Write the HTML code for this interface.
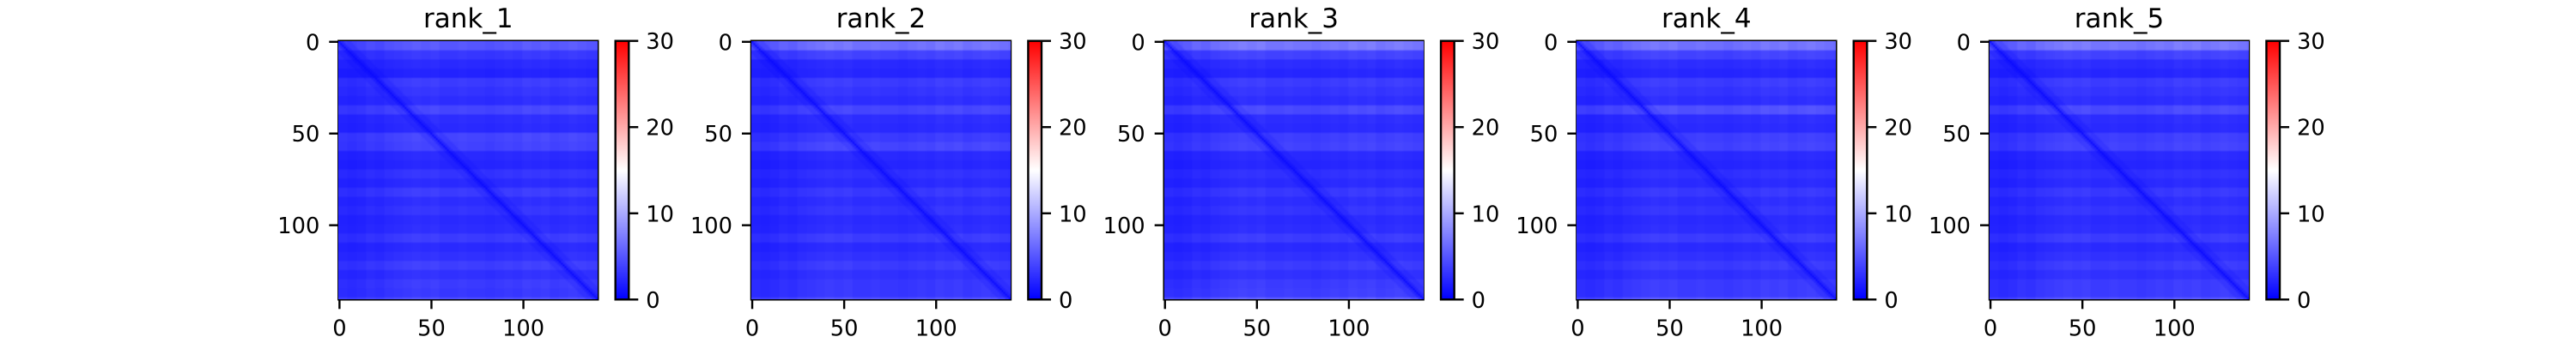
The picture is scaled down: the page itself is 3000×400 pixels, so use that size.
<!DOCTYPE html>
<html><head><meta charset="utf-8"><style>
html,body{margin:0;padding:0;background:#fff;width:3000px;height:400px;overflow:hidden}
svg{position:absolute;left:0;top:0}
canvas{position:absolute}
text{font-family:"DejaVu Sans","Liberation Sans",sans-serif;fill:#000}
</style></head><body>
<svg id="fig" width="3000" height="400"></svg>
<script>
// ---- data ----
const panelTitles = ["rank_1","rank_2","rank_3","rank_4","rank_5"];
const xTicks = [0,50,100];
const yTicks = [0,50,100];
const cbarTicks = [0,10,20,30];
const nCells = 141;
const vMin = 0, vMax = 30;
const diagValue = 0.6;
// brightness level per 5-row band (29 bands), one array per panel
const rowLevels1 = [5.0,3.2,2.4,2.0,3.4,3.0,2.6,4.0,2.6,2.4,4.0,3.8,2.4,2.2,3.0,2.4,3.4,2.6,3.0,2.4,2.6,3.4,2.4,2.8,3.6,2.8,3.4,3.2,4.6];
const rowLevels2 = [6.5,3.8,2.4,2.2,3.4,3.0,2.6,4.0,2.6,2.4,3.4,4.0,2.4,2.2,2.8,2.4,3.2,2.6,3.0,2.4,2.6,3.4,2.4,2.8,3.4,2.8,3.2,3.2,4.8];
const rowLevels3 = [6.8,3.8,2.6,2.2,3.4,3.0,2.6,4.2,2.6,2.4,3.6,3.8,2.4,2.2,2.8,2.4,3.2,2.6,3.0,2.4,2.6,3.4,2.4,2.8,3.4,2.8,3.4,3.6,5.6];
const rowLevels4 = [6.5,3.8,2.6,2.2,3.4,3.0,2.6,4.6,2.6,2.4,3.6,3.8,2.4,2.2,2.8,2.4,3.2,2.6,3.0,2.4,2.6,3.4,2.4,2.8,3.4,2.8,3.4,3.4,5.2];
const rowLevels5 = [6.8,3.8,2.6,2.2,3.4,3.0,2.6,4.2,2.6,2.4,3.6,3.8,2.4,2.2,2.8,2.4,3.2,2.6,3.0,2.4,2.6,3.4,2.4,2.8,3.4,2.8,3.4,3.4,5.0];
// column factor per 5-col band (29 bands)
const colFactors = [0.8,0.75,0.8,0.9,0.85,0.95,1.0,1.05,1.1,1.05,1.1,1.0,1.0,1.05,1.0,1.0,0.95,1.0,1.05,1.0,1.1,1.05,1.1,1.0,1.05,1.1,1.05,1.0,0.95];
const allRowLevels = [rowLevels1,rowLevels2,rowLevels3,rowLevels4,rowLevels5];

// ---- layout ----
const NS="http://www.w3.org/2000/svg";
const svg=document.getElementById('fig');
const ax0=394.3, step=480.68, axTop=47.7, axW=302, axH=301.6;
function mk(tag,attrs,parent){const e=document.createElementNS(NS,tag);for(const k in attrs)e.setAttribute(k,attrs[k]);(parent||svg).appendChild(e);return e;}
function bwr(v){let t=(v-vMin)/(vMax-vMin);t=Math.max(0,Math.min(1,t));
 if(t<0.5){const c=Math.round(255*t*2);return `rgb(${c},${c},255)`;}
 const c=Math.round(255*(1-t)*2);return `rgb(255,${c},${c})`;}

allRowLevels.forEach((rows,p)=>{
  const L=ax0+step*p;
  const xs=v=>L+(v+0.5)/nCells*axW;
  const ys=v=>axTop+(v+0.5)/nCells*axH;
  const g=mk('g',{});
  
  
  // heatmap canvas
  const cv=document.createElement('canvas');
  cv.width=nCells;cv.height=nCells;
  cv.style.left=L+'px';cv.style.top=axTop+'px';cv.style.width=axW+'px';cv.style.height=axH+'px';
  
  
  document.body.appendChild(cv);
  const ctx=cv.getContext('2d');
  for(let i=0;i<nCells;i++)for(let j=0;j<nCells;j++){
    let v=rows[Math.floor(i/5)]*colFactors[Math.floor(j/5)];
    if(i===j)v=diagValue;else if(Math.abs(i-j)<=2)v*=0.6;else if(Math.abs(i-j)<=6)v*=0.85;
    ctx.fillStyle=bwr(v);ctx.fillRect(j,i,1,1);
  }
  // frame
  const fr=mk('rect',{x:L,y:axTop,width:axW,height:axH,fill:'none',stroke:'#000','stroke-width':2.4},g);
  
  
  // title
  const t=mk('text',{x:L+axW/2,y:32,'text-anchor':'middle','font-size':31},g);
  t.textContent=panelTitles[p];
  
  
  xTicks.forEach(v=>{
    const x=xs(v)-axW/nCells*0.5+ (v===0?1:0);
    const xx=L+(v+0.5)/nCells*axW;
    mk('line',{x1:xx,x2:xx,y1:axTop+axH,y2:axTop+axH+11,stroke:'#000','stroke-width':2.4},g);
    const lb=mk('text',{x:xx,y:axTop+axH+42,'text-anchor':'middle','font-size':25.7},g);
    lb.textContent=v;
    
    
  });
  yTicks.forEach(v=>{
    const yy=ys(v);
    mk('line',{x1:L-11,x2:L,y1:yy,y2:yy,stroke:'#000','stroke-width':2.4},g);
    const lb=mk('text',{x:L-22,y:yy+9.5,'text-anchor':'end','font-size':25.7},g);
    lb.textContent=v;
    
    
  });
  // colorbar
  const cx=L+322.4, cw=15.6;
  const cb=mk('g',{},g);
  
  
  const defs=mk('defs',{},cb);
  const gr=mk('linearGradient',{id:'cbg'+p,x1:0,y1:1,x2:0,y2:0},defs);
  [0,0.25,0.5,0.75,1].forEach(s=>mk('stop',{offset:s,'stop-color':bwr(vMin+s*(vMax-vMin))},gr));
  mk('rect',{x:cx,y:axTop,width:cw,height:axH,fill:`url(#cbg${p})`,stroke:'#000','stroke-width':2.4},cb);
  const cy=v=>axTop+axH-(v-vMin)/(vMax-vMin)*axH;
  cbarTicks.forEach(v=>{
    mk('line',{x1:cx+cw,x2:cx+cw+11,y1:cy(v),y2:cy(v),stroke:'#000','stroke-width':2.4},cb);
    const lb=mk('text',{x:cx+cw+20,y:cy(v)+9.5,'font-size':25.7},cb);
    lb.textContent=v;
    
    
  });
});
</script>
</body></html>
